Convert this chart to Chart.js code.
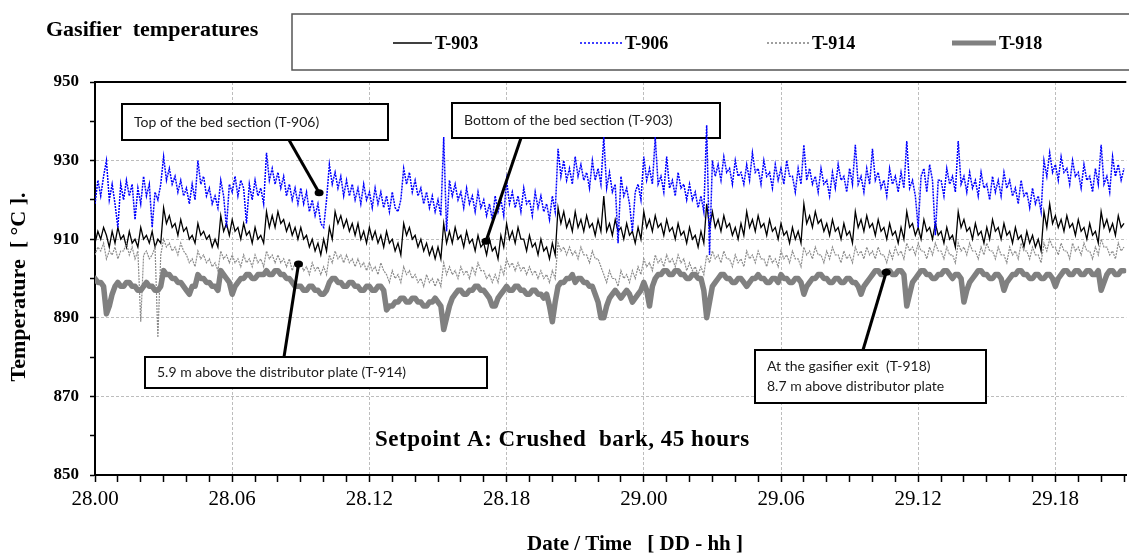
<!DOCTYPE html>
<html>
<head>
<meta charset="utf-8">
<title>Gasifier temperatures</title>
<script src="https://cdn.jsdelivr.net/npm/chart.js@4.4.0/dist/chart.umd.min.js"></script>
<style>
  html, body { margin: 0; padding: 0; background: #fff; }
  #wrap { width: 1129px; height: 556px; }
</style>
</head>
<body>
<div id="wrap"><canvas id="tempChart" width="1129" height="556"></canvas></div>
<script>
// readings every 7.5 min, hour 0 = day 28 00:00 (one row = 3 hours)
const stepHours = 0.125;

const t903 = [
  909, 912, 910, 913, 911, 908, 912, 909, 913, 910, 911, 908, 912, 909, 910, 908, 913, 910, 911, 909, 912, 908, 910, 909,
  918, 914, 916, 913, 914, 911, 915, 912, 913, 910, 911, 909, 914, 911, 912, 910, 911, 908, 910, 908, 916, 912, 914, 911,
  915, 912, 913, 910, 914, 911, 912, 909, 913, 910, 911, 909, 917, 913, 916, 913, 917, 914, 915, 912, 914, 911, 913, 910,
  913, 910, 911, 908, 910, 907, 909, 906, 910, 907, 913, 910, 917, 914, 916, 913, 915, 912, 914, 911, 914, 910, 912, 909,
  913, 910, 912, 909, 911, 908, 912, 909, 910, 907, 909, 906, 914, 911, 913, 910, 911, 908, 910, 907, 909, 906, 908, 905,
  908, 905, 914, 909, 912, 909, 913, 910, 911, 908, 912, 909, 910, 907, 911, 908, 909, 906, 910, 907, 908, 905, 911, 908,
  914, 910, 912, 909, 913, 910, 910, 907, 911, 908, 909, 906, 910, 907, 908, 905, 909, 906, 918, 914, 917, 913, 915, 912,
  917, 913, 915, 912, 916, 913, 914, 911, 915, 912, 921, 912, 914, 911, 915, 912, 913, 910, 914, 911, 912, 909, 913, 910,
  917, 913, 915, 912, 916, 913, 914, 911, 915, 912, 913, 910, 914, 911, 912, 909, 913, 910, 911, 908, 912, 909, 919, 913,
  917, 913, 915, 912, 916, 913, 914, 911, 913, 910, 914, 911, 917, 913, 915, 912, 916, 913, 914, 911, 915, 912, 913, 910,
  914, 911, 912, 909, 913, 910, 912, 909, 919, 914, 916, 913, 917, 914, 915, 912, 914, 911, 915, 912, 913, 910, 914, 911,
  912, 909, 917, 913, 915, 912, 916, 913, 914, 911, 915, 912, 913, 910, 914, 911, 912, 909, 913, 910, 917, 913, 914, 911,
  913, 910, 915, 912, 913, 910, 914, 911, 912, 909, 913, 910, 911, 908, 917, 913, 915, 912, 913, 910, 914, 911, 912, 909,
  913, 910, 915, 912, 913, 910, 914, 911, 912, 909, 913, 910, 911, 908, 912, 909, 911, 908, 910, 907, 917, 913, 919, 914,
  916, 913, 915, 912, 916, 913, 914, 911, 915, 912, 913, 910, 914, 911, 912, 909, 917, 913, 915, 912, 914, 911, 916, 913,
  914
];

const t906 = [
  919, 925, 921, 926, 930, 920, 924, 919, 913, 924, 920, 925, 921, 924, 915, 923, 919, 926, 921, 924, 913, 922, 920, 924,
  931, 925, 928, 924, 926, 922, 925, 921, 923, 919, 924, 920, 930, 924, 926, 921, 923, 919, 921, 918, 925, 921, 913, 924,
  922, 926, 921, 925, 923, 914, 924, 920, 925, 921, 923, 919, 932, 925, 928, 924, 927, 923, 926, 921, 924, 920, 923, 919,
  923, 919, 922, 917, 920, 916, 919, 914, 913, 920, 929, 924, 927, 923, 926, 921, 925, 921, 924, 920, 923, 919, 924, 920,
  922, 918, 923, 919, 922, 918, 921, 917, 922, 918, 917, 920, 928, 924, 927, 922, 925, 921, 923, 919, 922, 918, 921, 917,
  920, 916, 936, 912, 925, 921, 924, 920, 922, 918, 923, 919, 921, 917, 922, 918, 920, 916, 919, 915, 921, 917, 920, 916,
  925, 919, 922, 918, 921, 917, 923, 919, 920, 916, 922, 918, 921, 917, 919, 915, 921, 917, 933, 926, 930, 925, 928, 924,
  931, 926, 929, 925, 927, 923, 930, 925, 928, 924, 936, 923, 927, 922, 924, 909, 926, 921, 923, 919, 912, 922, 924, 920,
  931, 925, 928, 924, 936, 924, 926, 922, 931, 923, 925, 921, 927, 923, 924, 920, 924, 920, 922, 918, 921, 917, 939, 906,
  930, 926, 929, 925, 931, 927, 928, 924, 930, 926, 927, 924, 929, 925, 932, 927, 928, 924, 930, 926, 927, 923, 929, 925,
  928, 924, 930, 926, 926, 922, 928, 924, 934, 925, 928, 924, 926, 922, 928, 924, 925, 921, 927, 923, 929, 925, 926, 922,
  928, 924, 934, 924, 926, 922, 928, 924, 933, 925, 927, 923, 925, 921, 928, 924, 926, 922, 927, 923, 935, 923, 925, 921,
  913, 926, 928, 922, 929, 925, 911, 925, 925, 921, 928, 924, 926, 922, 935, 924, 926, 922, 927, 923, 925, 921, 927, 923,
  924, 920, 926, 922, 925, 921, 927, 923, 925, 921, 923, 919, 925, 921, 922, 918, 923, 919, 921, 917, 930, 926, 932, 927,
  929, 925, 931, 927, 928, 924, 930, 926, 927, 923, 929, 925, 926, 922, 928, 924, 934, 924, 926, 922, 931, 926, 929, 925,
  928
];

const t914 = [
  906, 908, 907, 909, 905, 907, 906, 908, 905, 907, 907, 909, 906, 908, 905, 907, 889, 906, 907, 905, 906, 908, 885, 906,
  910, 908, 909, 907, 908, 906, 909, 907, 906, 904, 905, 903, 907, 905, 906, 904, 905, 903, 904, 902, 907, 905, 906, 904,
  906, 904, 905, 903, 906, 904, 905, 903, 906, 904, 905, 903, 907, 905, 906, 904, 906, 904, 905, 903, 905, 902, 904, 902,
  904, 902, 903, 901, 904, 902, 903, 901, 903, 901, 906, 904, 907, 905, 906, 904, 906, 904, 905, 903, 905, 903, 904, 902,
  904, 902, 903, 901, 904, 902, 901, 899, 902, 900, 901, 899, 903, 901, 902, 900, 901, 899, 900, 898, 901, 899, 900, 898,
  900, 898, 904, 901, 903, 901, 902, 900, 903, 901, 902, 900, 903, 901, 904, 902, 902, 900, 901, 899, 901, 899, 903, 901,
  905, 903, 904, 902, 904, 902, 903, 901, 903, 901, 902, 900, 902, 900, 901, 899, 902, 900, 909, 907, 908, 906, 908, 906,
  907, 905, 908, 906, 906, 904, 907, 905, 905, 903, 901, 899, 902, 900, 900, 898, 902, 900, 901, 899, 902, 900, 903, 901,
  905, 903, 904, 902, 906, 904, 905, 903, 906, 904, 905, 903, 906, 904, 905, 902, 904, 902, 903, 901, 903, 901, 906, 904,
  907, 905, 906, 904, 907, 905, 905, 903, 906, 904, 905, 903, 907, 905, 906, 904, 907, 905, 905, 903, 906, 904, 905, 903,
  907, 905, 906, 904, 907, 905, 905, 903, 908, 906, 907, 905, 908, 906, 906, 904, 907, 905, 908, 906, 906, 904, 907, 905,
  906, 904, 908, 906, 907, 905, 908, 906, 907, 905, 908, 906, 906, 904, 907, 905, 908, 906, 907, 905, 909, 907, 908, 906,
  909, 907, 907, 905, 908, 906, 909, 907, 907, 905, 908, 906, 906, 904, 909, 907, 908, 906, 909, 907, 907, 905, 908, 906,
  909, 907, 907, 905, 908, 906, 906, 904, 908, 906, 907, 905, 909, 907, 907, 905, 908, 906, 906, 904, 909, 907, 910, 908,
  908, 906, 909, 907, 907, 905, 909, 907, 908, 906, 909, 907, 907, 905, 908, 906, 910, 908, 908, 906, 907, 905, 909, 907,
  908
];

const t918 = [
  900, 899, 899, 898, 891, 893, 896, 898, 899, 898, 898, 899, 899, 898, 898, 897, 897, 898, 899, 898, 898, 897, 897, 898,
  902, 901, 901, 900, 900, 899, 899, 898, 897, 896, 898, 898, 901, 900, 900, 899, 899, 898, 898, 897, 902, 901, 900, 899,
  896, 898, 899, 900, 900, 901, 901, 900, 900, 901, 901, 901, 902, 901, 901, 902, 902, 901, 901, 900, 900, 899, 898, 898,
  898, 897, 897, 898, 898, 897, 897, 896, 896, 897, 899, 900, 900, 899, 899, 898, 898, 899, 899, 898, 898, 897, 897, 898,
  898, 897, 897, 898, 898, 897, 892, 893, 893, 894, 894, 895, 895, 894, 894, 895, 895, 894, 894, 893, 893, 894, 894, 895,
  894, 893, 887, 890, 893, 895, 896, 897, 897, 896, 896, 897, 897, 898, 898, 897, 897, 896, 895, 893, 893, 895, 896, 897,
  898, 897, 897, 898, 898, 897, 897, 896, 896, 897, 897, 896, 896, 895, 896, 893, 889, 894, 898, 899, 899, 900, 900, 901,
  899, 900, 900, 899, 899, 898, 898, 896, 894, 890, 890, 893, 895, 896, 897, 896, 895, 896, 897, 896, 894, 895, 896, 897,
  899, 897, 893, 898, 900, 901, 901, 902, 902, 901, 901, 902, 902, 901, 901, 900, 900, 901, 901, 900, 900, 897, 890, 894,
  898, 899, 900, 901, 901, 900, 900, 899, 899, 900, 900, 899, 898, 899, 900, 900, 901, 900, 900, 899, 899, 900, 900, 899,
  901, 900, 900, 899, 899, 900, 900, 899, 896, 898, 899, 900, 900, 901, 901, 900, 900, 899, 899, 900, 900, 899, 899, 900,
  900, 899, 899, 898, 896, 898, 899, 900, 901, 902, 902, 901, 901, 902, 902, 901, 901, 902, 902, 901, 893, 896, 899, 900,
  901, 902, 902, 901, 901, 900, 900, 901, 901, 902, 902, 901, 900, 901, 901, 900, 894, 897, 899, 900, 901, 902, 902, 901,
  901, 900, 900, 901, 901, 900, 897, 899, 900, 901, 901, 902, 902, 901, 901, 900, 900, 901, 901, 900, 900, 901, 901, 900,
  898, 900, 901, 902, 902, 901, 901, 902, 902, 901, 901, 902, 902, 901, 901, 902, 897, 899, 901, 902, 902, 901, 901, 902,
  902
];

const hours = t903.map((v, i) => i * stepHours);

const xTickLabels = ['28.00', '28.06', '28.12', '28.18', '29.00', '29.06', '29.12', '29.18'];
const yTickLabels = [850, 870, 890, 910, 930, 950];
const yGridValues = [870, 890, 910, 930];

const serif = "'Liberation Serif', 'Times New Roman', serif";

function toPoints(series) {
  return series.map((v, i) => ({ x: hours[i], y: v }));
}

// callout boxes (pixel layout) and where their pointers land (data coords)
const notes = [
  { x: 122, y: 104, w: 266, h: 36, lines: ['Top of the bed section (T-906)'], from: [289, 140], to: [9.8, 921.8] },
  { x: 452, y: 103, w: 268, h: 35, lines: ['Bottom of the bed section (T-903)'], from: [521, 138], to: [17.1, 909.5] },
  { x: 145, y: 357, w: 342, h: 31, lines: ['5.9 m above the distributor plate (T-914)'], from: [284, 357], to: [8.9, 903.7] },
  { x: 755, y: 350, w: 231, h: 53, lines: ['At the gasifier exit  (T-918)', '8.7 m above distributor plate'], from: [863, 350], to: [34.6, 901.6] }
];

const legendItems = [
  { label: 'T-903', x1: 393, x2: 432, color: '#000', width: 1.5, dash: [] },
  { label: 'T-906', x1: 580, x2: 622, color: '#0000ff', width: 1.5, dash: [2, 2] },
  { label: 'T-914', x1: 767, x2: 809, color: '#808080', width: 1.5, dash: [2, 2] },
  { label: 'T-918', x1: 952, x2: 996, color: '#808080', width: 5, dash: [] }
];

const decor = {
  id: 'decor',
  beforeDatasetsDraw(chart) {
    const ctx = chart.ctx;
    ctx.save();
    notes.forEach(n => {
      ctx.fillStyle = '#fff';
      ctx.fillRect(n.x, n.y, n.w, n.h);
      ctx.strokeStyle = '#000';
      ctx.lineWidth = 2;
      ctx.strokeRect(n.x, n.y, n.w, n.h);
      ctx.fillStyle = '#1a1a1a';
      ctx.font = "14px Lato, 'Open Sans', sans-serif";
      ctx.textBaseline = 'middle';
      const top = n.y + n.h / 2 - (n.lines.length - 1) * 10;
      n.lines.forEach((t, k) => ctx.fillText(t, n.x + 12, top + k * 20));
    });
    ctx.restore();
  },
  afterDatasetsDraw(chart) {
    const ctx = chart.ctx;
    const xs = chart.scales.x, ys = chart.scales.y;
    ctx.save();
    notes.forEach(n => {
      const tx = xs.getPixelForValue(n.to[0]);
      const ty = ys.getPixelForValue(n.to[1]);
      ctx.strokeStyle = '#000';
      ctx.lineWidth = 3;
      ctx.beginPath();
      ctx.moveTo(n.from[0], n.from[1]);
      ctx.lineTo(tx, ty);
      ctx.stroke();
      ctx.fillStyle = '#000';
      ctx.beginPath();
      ctx.ellipse(tx, ty, 4.5, 3.5, 0, 0, Math.PI * 2);
      ctx.fill();
    });
    ctx.restore();
  },
  afterDraw(chart) {
    const ctx = chart.ctx;
    const a = chart.chartArea;
    ctx.save();
    // top frame line
    ctx.strokeStyle = '#000';
    ctx.lineWidth = 2;
    ctx.beginPath();
    ctx.moveTo(a.left - 1, a.top);
    ctx.lineTo(a.right, a.top);
    ctx.stroke();

    ctx.fillStyle = '#000';
    ctx.textBaseline = 'middle';
    ctx.font = 'bold 22px ' + serif;
    ctx.fillText('Gasifier  temperatures', 46, 30);

    // legend box
    ctx.strokeStyle = '#555';
    ctx.lineWidth = 1.5;
    ctx.strokeRect(292, 14, 850, 56);
    legendItems.forEach(it => {
      ctx.strokeStyle = it.color;
      ctx.lineWidth = it.width;
      ctx.setLineDash(it.dash);
      ctx.beginPath();
      ctx.moveTo(it.x1, 43);
      ctx.lineTo(it.x2, 43);
      ctx.stroke();
      ctx.setLineDash([]);
      ctx.fillStyle = '#000';
      ctx.font = 'bold 18px ' + serif;
      ctx.fillText(it.label, it.x2 + 3, 44);
    });

    ctx.font = 'bold 23px ' + serif;
    ctx.letterSpacing = '0.5px';
    ctx.fillText('Setpoint A: Crushed  bark, 45 hours', 375, 440);
    ctx.letterSpacing = '0px';

    ctx.textAlign = 'center';
    ctx.font = 'bold 21px ' + serif;
    ctx.fillText('Date / Time   [ DD - hh ]', 635, 545);

    ctx.translate(19, 287);
    ctx.rotate(-Math.PI / 2);
    ctx.font = 'bold 22px ' + serif;
    ctx.fillText('Temperature  [ °C ].', 0, 0);
    ctx.restore();
  }
};

new Chart(document.getElementById('tempChart'), {
  type: 'line',
  data: {
    datasets: [
      { label: 'T-903', data: toPoints(t903), borderColor: '#000000', borderWidth: 1.3, order: 4 },
      { label: 'T-906', data: toPoints(t906), borderColor: '#0000ff', borderWidth: 1.5, borderDash: [2, 1], order: 3 },
      { label: 'T-914', data: toPoints(t914), borderColor: '#8c8c8c', borderWidth: 1.2, borderDash: [2, 1], order: 2 },
      { label: 'T-918', data: toPoints(t918), borderColor: '#808080', borderWidth: 5.5, borderJoinStyle: 'round', borderCapStyle: 'round', order: 1 }
    ]
  },
  options: {
    responsive: false,
    animation: false,
    devicePixelRatio: 1,
    layout: { padding: { top: 82, left: 0, right: 0, bottom: 0 } },
    elements: { point: { radius: 0 }, line: { tension: 0 } },
    plugins: { legend: { display: false }, tooltip: { enabled: false } },
    scales: {
      x: {
        type: 'linear',
        min: 0,
        max: 45.1,
        ticks: {
          stepSize: 1,
          includeBounds: false,
          autoSkip: false,
          maxRotation: 0,
          padding: 5,
          color: '#000',
          font: { family: serif, size: 21 },
          callback: v => (v % 6 === 0 ? xTickLabels[v / 6] : '')
        },
        grid: {
          color: c => (c.tick && c.tick.value % 6 === 0 && c.tick.value !== 0 ? '#bdbdbd' : 'rgba(0,0,0,0)'),
          tickColor: '#000',
          tickLength: 7,
          tickWidth: 1.5
        },
        border: { color: '#000', width: 2, dash: [3, 2] },
        afterFit: s => { s.height = 81; }
      },
      y: {
        min: 850,
        max: 950,
        ticks: {
          stepSize: 10,
          padding: 11,
          color: '#000',
          font: { family: serif, size: 17, weight: 'bold' },
          callback: v => (yTickLabels.includes(v) ? String(v) : '')
        },
        grid: {
          color: c => (c.tick && yGridValues.includes(c.tick.value) ? '#bdbdbd' : 'rgba(0,0,0,0)'),
          tickColor: '#000',
          tickLength: 5,
          tickWidth: 1.5
        },
        border: { color: '#000', width: 2, dash: [3, 2] },
        afterFit: s => { s.width = 95; }
      }
    }
  },
  plugins: [decor]
});
</script>
</body>
</html>
